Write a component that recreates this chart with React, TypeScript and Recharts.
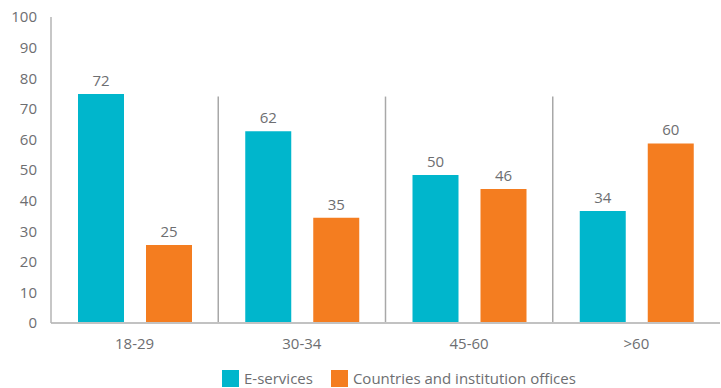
import React from 'react';
import { BarChart, Bar, XAxis, YAxis, ReferenceLine, LabelList } from 'recharts';

// Age groups
const categories = ['18-29', '30-34', '45-60', '>60'];
// Bar heights as drawn in the picture
const eServices = [74.8, 62.7, 48.4, 36.6];
const offices = [25.5, 34.4, 43.8, 58.7];
// Printed value labels
const eLabels = [72, 62, 50, 34];
const officeLabels = [25, 35, 46, 60];
const yTicks = [0, 10, 20, 30, 40, 50, 60, 70, 80, 90, 100];
// group separators sit at the start of these categories and stop at this value
const separators = ['30-34', '45-60', '>60'];
const separatorTop = 74;

const TEAL = '#00b6cc';
const ORANGE = '#f47d20';
const TEXT = '#6d6e71';
const FONT = '"Open Sans", sans-serif';

const data = categories.map((name, i) => ({
    name,
    eServices: eServices[i],
    offices: offices[i],
    eLabel: eLabels[i],
    officeLabel: officeLabels[i],
}));

const legendItems = [
    { name: 'E-services', color: TEAL },
    { name: 'Countries and institution offices', color: ORANGE },
];

export default function App() {
    return (
        <div style={{ position: 'absolute', left: 0, top: 0, width: 721, height: 388, overflow: 'hidden', background: '#fff', fontFamily: FONT }}>
            <BarChart
                width={721}
                height={388}
                data={data}
                margin={{ top: 17, right: 1, left: 0, bottom: 35 }}
                barSize={46}
                barGap={22}
            >
                <XAxis
                    dataKey="name"
                    height={30}
                    axisLine={{ stroke: '#c2c2c2', strokeWidth: 2 }}
                    tickLine={false}
                    tickMargin={9}
                    tick={{ fill: TEXT, fontSize: 15, fontFamily: FONT }}
                />
                <YAxis
                    width={51}
                    domain={[0, 100]}
                    ticks={yTicks}
                    interval={0}
                    axisLine={{ stroke: '#b5b5b5', strokeWidth: 1.5 }}
                    tickLine={false}
                    tickMargin={8}
                    tick={{ fill: TEXT, fontSize: 15, fontFamily: FONT }}
                />
                {separators.map((s) => (
                    <ReferenceLine
                        key={s}
                        position="start"
                        segment={[{ x: s, y: separatorTop }, { x: s, y: 0 }]}
                        stroke="#a8a8a8"
                        strokeWidth={1.5}
                    />
                ))}
                <Bar dataKey="eServices" fill={TEAL} isAnimationActive={false}>
                    <LabelList dataKey="eLabel" position="top" offset={8} fill={TEXT} fontSize={15} fontFamily={FONT} />
                </Bar>
                <Bar dataKey="offices" fill={ORANGE} isAnimationActive={false}>
                    <LabelList dataKey="officeLabel" position="top" offset={8} fill={TEXT} fontSize={15} fontFamily={FONT} />
                </Bar>
            </BarChart>
            {/* Legend */}
            <div style={{ position: 'absolute', top: 370, left: 222, display: 'flex', alignItems: 'flex-start', color: TEXT, fontSize: 15, lineHeight: '17px' }}>
                {legendItems.map((item) => (
                    <div key={item.name} style={{ display: 'flex', alignItems: 'flex-start', marginRight: 18 }}>
                        <span style={{ width: 17, height: 17, background: item.color, marginRight: 5 }} />
                        <span style={{ marginTop: 0 }}>{item.name}</span>
                    </div>
                ))}
            </div>
        </div>
    );
}
